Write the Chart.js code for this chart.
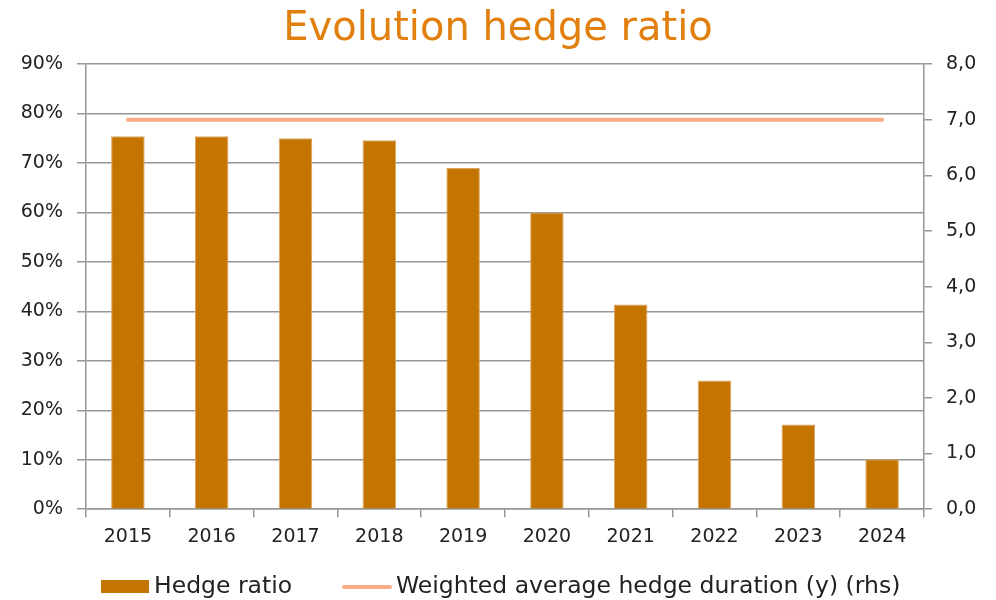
<!DOCTYPE html>
<html>
<head>
<meta charset="utf-8">
<script src="https://cdn.jsdelivr.net/npm/chart.js@4/dist/chart.umd.min.js"></script>
<style>
  html, body { margin:0; padding:0; background:#fff; }
  #wrap { position:relative; width:996px; height:600px; }
  #legend { position:absolute; left:0; top:570px; width:996px; height:30px; font-family:"DejaVu Sans", sans-serif; font-size:23.5px; color:#222; }
  .lg { position:absolute; top:0; height:30px; line-height:30px; white-space:nowrap; }
  .sw { display:inline-block; vertical-align:middle; }
</style>
</head>
<body>
<div id="wrap">
  <canvas id="chart" width="996" height="600"></canvas>
  <div id="legend"></div>
</div>
<script>
// data
const years = ['2015','2016','2017','2018','2019','2020','2021','2022','2023','2024'];
const hedgeRatio = [0.754, 0.754, 0.750, 0.746, 0.690, 0.600, 0.414, 0.260, 0.171, 0.101];
const hedgeDuration = [7.0, 7.0, 7.0, 7.0, 7.0, 7.0, 7.0, 7.0, 7.0, 7.0];
const leftTicks = [0, 0.1, 0.2, 0.3, 0.4, 0.5, 0.6, 0.7, 0.8, 0.9];
const rightTicks = [0, 1, 2, 3, 4, 5, 6, 7, 8];
const seriesNames = ['Hedge ratio', 'Weighted average hedge duration (y) (rhs)'];

const BAR = '#c47500';
const LINE = '#f8ad88';
const GRID = '#969696';
const FONT = '"DejaVu Sans", sans-serif';

(function(){
  const ctx = document.getElementById('chart').getContext('2d');
  new Chart(ctx, {
    data: {
      labels: years,
      datasets: [
        { type:'line', label: seriesNames[1], data: hedgeDuration, yAxisID:'y1',
          borderColor: LINE, borderWidth: 4, borderCapStyle:'round', pointRadius:0, fill:false, order:0 },
        { type:'bar', label: seriesNames[0], data: hedgeRatio, yAxisID:'y',
          backgroundColor: BAR, borderColor:'#dca564', borderWidth:1, borderSkipped:'bottom',
          categoryPercentage: 0.4, barPercentage: 1, order:1 }
      ]
    },
    options: {
      responsive:false, animation:false,
      layout: { padding: { top: 0, bottom: 44, left: 0, right: 0 } },
      plugins: {
        legend: { display:false },
        tooltip: { enabled:false },
        title: { display:true, text:'Evolution hedge ratio', color:'#e2800f',
          font:{ family:FONT, size:40, weight:'normal' }, padding:{ top:6, bottom:10 } }
      },
      scales: {
        x: {
          grid: { offset:true, drawOnChartArea:false, color:GRID, lineWidth:1.5, tickLength:8 },
          border: { color:GRID, width:1.5 },
          ticks: { color:'#222', font:{ family:FONT, size:19 }, padding:8 }
        },
        y: {
          position:'left', min:0, max:0.9,
          afterBuildTicks: s => { s.ticks = leftTicks.map(v => ({ value:v })); },
          ticks: { color:'#222', font:{ family:FONT, size:19 }, padding:14,
            callback: v => Math.round(v*100) + '%' },
          grid: { color:GRID, lineWidth:1.5, tickLength:9 },
          border: { color:GRID, width:1.5 },
          afterFit: s => { s.width = 86; }
        },
        y1: {
          position:'right', min:0, max:8,
          afterBuildTicks: s => { s.ticks = rightTicks.map(v => ({ value:v })); },
          ticks: { color:'#222', font:{ family:FONT, size:19 }, padding:14,
            callback: v => v.toFixed(1).replace('.', ',') },
          grid: { drawOnChartArea:false, color:GRID, lineWidth:1.5, tickLength:8 },
          border: { color:GRID, width:1.5 },
          afterFit: s => { s.width = 72; }
        }
      }
    }
  });

  // legend as html
  const lg = document.getElementById('legend');
  lg.innerHTML =
    '<div class="lg" style="left:101px"><span class="sw" style="width:48px;height:13px;background:' + BAR + '"></span>' +
    '<span style="margin-left:5px">' + seriesNames[0] + '</span></div>' +
    '<div class="lg" style="left:342px"><span class="sw" style="width:50px;height:4px;border-radius:2px;background:' + LINE + '"></span>' +
    '<span style="margin-left:4px">' + seriesNames[1] + '</span></div>';
})();
</script>
</body>
</html>
